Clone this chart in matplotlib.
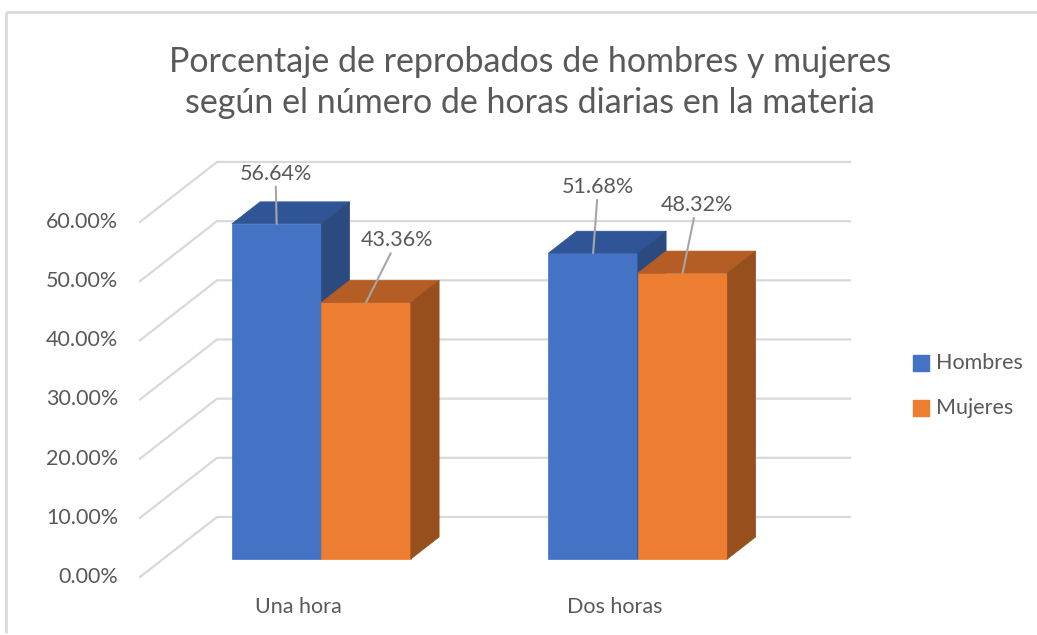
import matplotlib.pyplot as plt
from matplotlib.patches import Polygon

categorias = ["Una hora", "Dos horas"]
series = ["Hombres", "Mujeres"]
hombres = [56.64, 51.68]
mujeres = [43.36, 48.32]
ticks = [0, 10, 20, 30, 40, 50, 60]

plt.rcParams['font.family'] = ['Lato', 'DejaVu Sans']
gris = '#595959'
fs = 15.5

# colors: front, top, side
colores = {
    "Hombres": ('#4472C4', '#2F5597', '#2A4A80'),
    "Mujeres": ('#ED7D31', '#B45D24', '#974F1E'),
}

fig = plt.figure(figsize=(10.37, 6.35), dpi=100)
ax = fig.add_axes([0, 0, 1, 1])
# 1 x unit = one category slot (316.5 px), 1 y unit = 1 %
px_x, px_y = 316.5, 5.917
ax.set_xlim(-298.25 / px_x, (1037 - 298.25) / px_x)
ax.set_ylim(-(635 - 577) / px_y, 577 / px_y)
ax.axis('off')

# depth of the chart box (in data units) and where the bars sit inside it
dx, dy = 77 / px_x, 60 / px_y
d0, d1 = 0.3, 0.667
ancho = 89.5 / px_x
x_izq, x_der = -0.5, len(categorias) - 0.5

# frame of the chart area
ax.plot([-292 / px_x, -292 / px_x], [-(633 - 577) / px_y, (577 - 12) / px_y],
        color='#DADADA', lw=2, solid_capstyle='butt')
ax.plot([-292 / px_x, 760 / px_x], [(577 - 12) / px_y] * 2,
        color='#DADADA', lw=2, solid_capstyle='butt')

# gridlines: side wall diagonal + back wall horizontal
for t in ticks:
    ax.plot([x_izq, x_izq + dx, x_der + dx], [t, t + dy, t + dy],
            color='#D9D9D9', lw=1.6, zorder=1)
    ax.text(x_izq - 22 / px_x, t, f"{t:.2f}%", ha='right', va='center',
            fontsize=fs, color=gris)

def barra(x0, h, col):
    front, top, side = col
    fx, fy = x0 + dx * d0, dy * d0
    ddx, ddy = dx * (d1 - d0), dy * (d1 - d0)
    ax.add_patch(Polygon([(fx, fy), (fx + ancho, fy), (fx + ancho, fy + h), (fx, fy + h)],
                         closed=True, fc=front, ec=front, lw=0.5, zorder=3))
    ax.add_patch(Polygon([(fx, fy + h), (fx + ancho, fy + h), (fx + ancho + ddx, fy + h + ddy),
                          (fx + ddx, fy + h + ddy)], closed=True, fc=top, ec=top, lw=0.5, zorder=3))
    ax.add_patch(Polygon([(fx + ancho, fy), (fx + ancho + ddx, fy + ddy),
                          (fx + ancho + ddx, fy + h + ddy), (fx + ancho, fy + h)],
                         closed=True, fc=side, ec=side, lw=0.5, zorder=3))
    return fx + ancho / 2, fy + h

# label offsets in pixels from the top-front centre of each bar
offsets = {("Hombres", 0): (-1, 50), ("Mujeres", 0): (31, 62),
           ("Hombres", 1): (5, 66), ("Mujeres", 1): (14, 68)}

for i, cat in enumerate(categorias):
    for j, (nombre, vals) in enumerate([("Hombres", hombres), ("Mujeres", mujeres)]):
        x0 = i - ancho + j * ancho
        cx, cy = barra(x0, vals[i], colores[nombre])
        ax.annotate(f"{vals[i]:.2f}%", xy=(cx, cy), xytext=offsets[(nombre, i)],
                    textcoords='offset pixels', ha='center', va='center',
                    fontsize=fs, color=gris, zorder=5,
                    arrowprops=dict(arrowstyle='-', color='#A6A6A6', lw=1.5,
                                    shrinkA=0, shrinkB=0))
    ax.text(i, -(607 - 577) / px_y, cat, ha='center', va='center', fontsize=fs, color=gris)

# legend
for j, nombre in enumerate(series):
    ly = (577 - 363 - 45 * j) / px_y
    ax.scatter([(921 - 298.25) / px_x], [ly], marker='s', s=120, color=colores[nombre][0], zorder=5)
    ax.text((936 - 298.25) / px_x, ly, nombre, ha='left', va='center', fontsize=fs, color=gris)

ax.text((530 - 298.25) / px_x, (577 - 62) / px_y,
        "Porcentaje de reprobados de hombres y mujeres", ha='center', va='center',
        fontsize=24.5, color=gris)
ax.text((530 - 298.25) / px_x, (577 - 103) / px_y,
        "según el número de horas diarias en la materia", ha='center', va='center',
        fontsize=24.5, color=gris)

fig.savefig("out.png", dpi=100, facecolor='white')
